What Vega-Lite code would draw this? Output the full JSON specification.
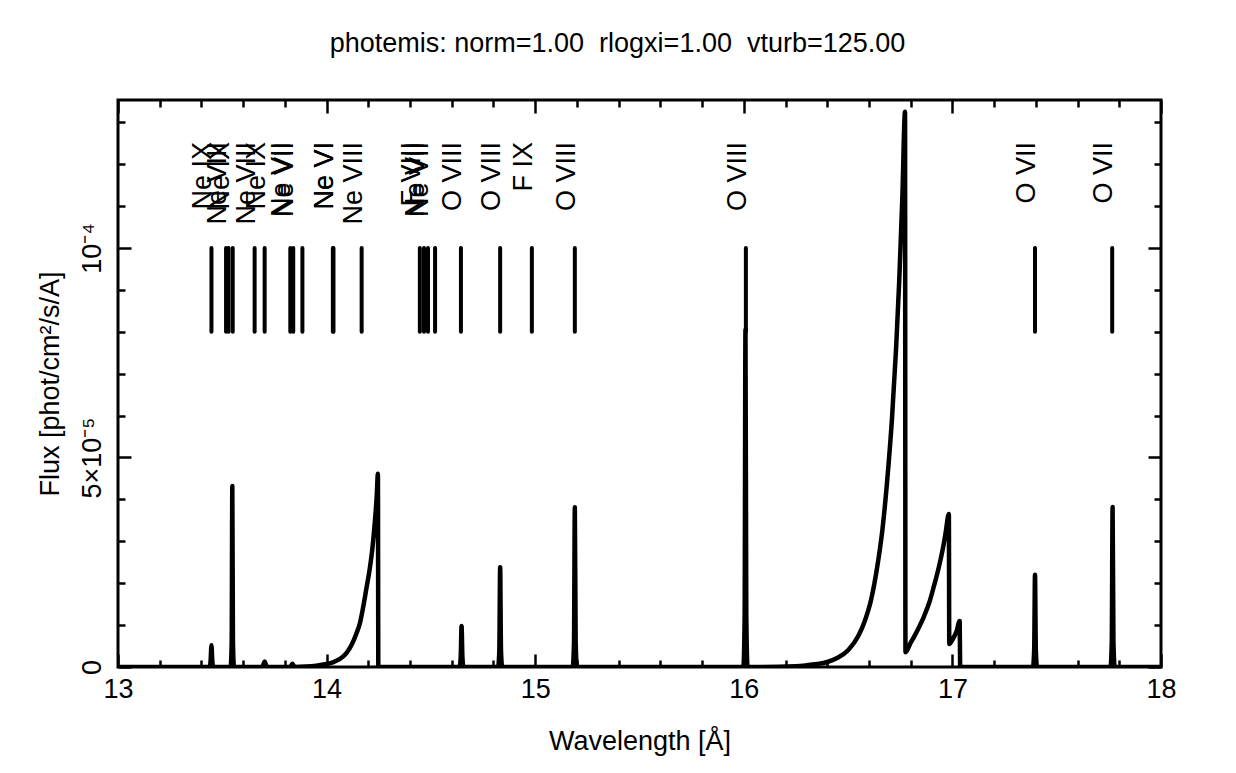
{
  "$schema": "https://vega.github.io/schema/vega-lite/v6.json",
  "width": 1043,
  "height": 567,
  "autosize": "none",
  "padding": {"left": 118, "top": 100, "right": 75, "bottom": 106},
  "background": "white",
  "title": {
    "text": "photemis: norm=1.00\u00a0 rlogxi=1.00\u00a0 vturb=125.00",
    "font": "Liberation Sans",
    "fontSize": 27,
    "fontWeight": "normal",
    "color": "black",
    "anchor": "middle",
    "baseline": "alphabetic",
    "offset": 20,
    "dx": -22
  },
  "datasets": {
    "spectrum": [
      {"wavelength": 13.0, "flux": 0}, {"wavelength": 13.43, "flux": 0},
      {"wavelength": 13.44, "flux": 0.0000002}, {"wavelength": 13.444, "flux": 0.0000015},
      {"wavelength": 13.448, "flux": 0.0000052}, {"wavelength": 13.452, "flux": 0.0000015},
      {"wavelength": 13.456, "flux": 0.0000002}, {"wavelength": 13.465, "flux": 0},
      {"wavelength": 13.54, "flux": 0}, {"wavelength": 13.545, "flux": 0.000006},
      {"wavelength": 13.548, "flux": 0.0000432}, {"wavelength": 13.551, "flux": 0.000006},
      {"wavelength": 13.556, "flux": 0},
      {"wavelength": 13.69, "flux": 0}, {"wavelength": 13.697, "flux": 0.0000006},
      {"wavelength": 13.703, "flux": 0.0000013}, {"wavelength": 13.709, "flux": 0.0000006},
      {"wavelength": 13.716, "flux": 0},
      {"wavelength": 13.825, "flux": 0}, {"wavelength": 13.831, "flux": 0.0000004},
      {"wavelength": 13.836, "flux": 0.0000008}, {"wavelength": 13.841, "flux": 0.0000004},
      {"wavelength": 13.847, "flux": 0},
      {"wavelength": 13.9, "flux": 0.0000001}, {"wavelength": 13.95, "flux": 0.0000003},
      {"wavelength": 14.0, "flux": 0.0000007}, {"wavelength": 14.03, "flux": 0.0000011},
      {"wavelength": 14.06, "flux": 0.0000018}, {"wavelength": 14.095, "flux": 0.0000033},
      {"wavelength": 14.12, "flux": 0.0000053}, {"wavelength": 14.143, "flux": 0.000008},
      {"wavelength": 14.16, "flux": 0.0000105}, {"wavelength": 14.175, "flux": 0.0000142},
      {"wavelength": 14.19, "flux": 0.0000185}, {"wavelength": 14.207, "flux": 0.0000235},
      {"wavelength": 14.22, "flux": 0.0000285}, {"wavelength": 14.231, "flux": 0.0000345},
      {"wavelength": 14.24, "flux": 0.0000405}, {"wavelength": 14.246, "flux": 0.0000461},
      {"wavelength": 14.248, "flux": 0},
      {"wavelength": 14.638, "flux": 0}, {"wavelength": 14.643, "flux": 0.0000025},
      {"wavelength": 14.647, "flux": 0.0000098}, {"wavelength": 14.651, "flux": 0.0000025},
      {"wavelength": 14.656, "flux": 0},
      {"wavelength": 14.822, "flux": 0}, {"wavelength": 14.828, "flux": 0.000004},
      {"wavelength": 14.832, "flux": 0.0000238}, {"wavelength": 14.836, "flux": 0.000004},
      {"wavelength": 14.842, "flux": 0},
      {"wavelength": 15.18, "flux": 0}, {"wavelength": 15.186, "flux": 0.000006},
      {"wavelength": 15.19, "flux": 0.0000381}, {"wavelength": 15.194, "flux": 0.000006},
      {"wavelength": 15.2, "flux": 0},
      {"wavelength": 15.998, "flux": 0}, {"wavelength": 16.004, "flux": 0.000012},
      {"wavelength": 16.008, "flux": 0.0000805}, {"wavelength": 16.012, "flux": 0.000012},
      {"wavelength": 16.018, "flux": 0},
      {"wavelength": 16.25, "flux": 0.0000002}, {"wavelength": 16.3, "flux": 0.0000004},
      {"wavelength": 16.35, "flux": 0.0000007}, {"wavelength": 16.4, "flux": 0.0000012},
      {"wavelength": 16.45, "flux": 0.0000022}, {"wavelength": 16.5, "flux": 0.000004},
      {"wavelength": 16.55, "flux": 0.0000075}, {"wavelength": 16.58, "flux": 0.000011},
      {"wavelength": 16.61, "flux": 0.000016}, {"wavelength": 16.64, "flux": 0.000024},
      {"wavelength": 16.665, "flux": 0.000033}, {"wavelength": 16.69, "flux": 0.000046},
      {"wavelength": 16.71, "flux": 0.000059}, {"wavelength": 16.73, "flux": 0.000076},
      {"wavelength": 16.745, "flux": 0.000092}, {"wavelength": 16.76, "flux": 0.000112},
      {"wavelength": 16.773, "flux": 0.0001325}, {"wavelength": 16.775, "flux": 0.0000035},
      {"wavelength": 16.8, "flux": 0.0000058}, {"wavelength": 16.816, "flux": 0.0000072},
      {"wavelength": 16.84, "flux": 0.0000095}, {"wavelength": 16.864, "flux": 0.0000121},
      {"wavelength": 16.89, "flux": 0.0000155}, {"wavelength": 16.912, "flux": 0.0000194},
      {"wavelength": 16.93, "flux": 0.0000228}, {"wavelength": 16.944, "flux": 0.0000258},
      {"wavelength": 16.958, "flux": 0.0000292}, {"wavelength": 16.968, "flux": 0.0000322},
      {"wavelength": 16.983, "flux": 0.0000365}, {"wavelength": 16.985, "flux": 0.0000055},
      {"wavelength": 17.0, "flux": 0.0000065}, {"wavelength": 17.02, "flux": 0.0000085},
      {"wavelength": 17.035, "flux": 0.000011}, {"wavelength": 17.037, "flux": 0.0000003},
      {"wavelength": 17.05, "flux": 0},
      {"wavelength": 17.386, "flux": 0}, {"wavelength": 17.392, "flux": 0.000004},
      {"wavelength": 17.396, "flux": 0.000022}, {"wavelength": 17.4, "flux": 0.000004},
      {"wavelength": 17.406, "flux": 0},
      {"wavelength": 17.758, "flux": 0}, {"wavelength": 17.764, "flux": 0.000006},
      {"wavelength": 17.768, "flux": 0.0000382}, {"wavelength": 17.772, "flux": 0.000006},
      {"wavelength": 17.778, "flux": 0}, {"wavelength": 18.0, "flux": 0}
    ],
    "lines": [
      {"wavelength": 13.448, "ion": "Ne IX"},
      {"wavelength": 13.518, "ion": "Ne VIII"},
      {"wavelength": 13.53, "ion": "Ne IX"},
      {"wavelength": 13.55, "ion": ""},
      {"wavelength": 13.655, "ion": "Ne VIII"},
      {"wavelength": 13.703, "ion": "Ne IX"},
      {"wavelength": 13.826, "ion": "Ne VII"},
      {"wavelength": 13.84, "ion": "Ne VII"},
      {"wavelength": 13.884, "ion": ""},
      {"wavelength": 14.03, "ion": "Ne VI"},
      {"wavelength": 14.033, "ion": "Ne VI"},
      {"wavelength": 14.168, "ion": "Ne VIII"},
      {"wavelength": 14.447, "ion": "F VIII"},
      {"wavelength": 14.467, "ion": "Ne VII"},
      {"wavelength": 14.486, "ion": "Ne VII"},
      {"wavelength": 14.52, "ion": ""},
      {"wavelength": 14.644, "ion": "O VIII"},
      {"wavelength": 14.832, "ion": "O VIII"},
      {"wavelength": 14.984, "ion": "F IX"},
      {"wavelength": 15.19, "ion": "O VIII"},
      {"wavelength": 16.01, "ion": "O VIII"},
      {"wavelength": 17.396, "ion": "O VII"},
      {"wavelength": 17.766, "ion": "O VII"}
    ]
  },
  "config": {
    "view": {"stroke": "black", "strokeWidth": 3},
    "font": "Liberation Sans",
    "axis": {
      "domain": false,
      "grid": false,
      "tickColor": "black",
      "tickWidth": 2.5,
      "labelColor": "black",
      "labelFont": "Liberation Sans",
      "labelFontSize": 27,
      "titleColor": "black",
      "titleFont": "Liberation Sans",
      "titleFontSize": 27,
      "titleFontWeight": "normal"
    }
  },
  "resolve": {"axis": {"x": "independent", "y": "independent"}},
  "layer": [
    {
      "data": {"name": "spectrum"},
      "mark": {"type": "line", "color": "black", "strokeWidth": 4.5, "strokeJoin": "round", "strokeCap": "round", "interpolate": "monotone", "clip": true},
      "encoding": {
        "x": {
          "field": "wavelength", "type": "quantitative",
          "scale": {"domain": [13, 18], "nice": false, "zero": false},
          "axis": {
            "orient": "bottom",
            "values": [13,13.2,13.4,13.6,13.8,14,14.2,14.4,14.6,14.8,15,15.2,15.4,15.6,15.8,16,16.2,16.4,16.6,16.8,17,17.2,17.4,17.6,17.8,18],
            "labelExpr": "abs(datum.value-round(datum.value))<0.001 ? format(datum.value,'d') : ''",
            "tickSize": {"condition": {"test": "abs(datum.value-round(datum.value))<0.001", "value": -13}, "value": -7},
            "labelPadding": 43,
            "labelBaseline": "alphabetic",
            "labelAlign": "center",
            "labelFlush": false,
            "labelOverlap": false,
            "labelBound": false,
            "title": "Wavelength [Å]",
            "titlePadding": 20
          }
        },
        "y": {
          "field": "flux", "type": "quantitative",
          "scale": {"domain": [0, 0.0001353], "nice": false, "zero": false},
          "axis": {
            "orient": "left",
            "values": [0,0.00001,0.00002,0.00003,0.00004,0.00005,0.00006,0.00007,0.00008,0.00009,0.0001,0.00011,0.00012,0.00013],
            "labelExpr": "datum.value == 0 ? '0' : (abs(datum.value-0.00005)<1e-9 ? '5×10⁻⁵' : (abs(datum.value-0.0001)<1e-9 ? '10⁻⁴' : ''))",
            "tickSize": {"condition": {"test": "abs(datum.value*20000-round(datum.value*20000))<0.001", "value": -13}, "value": -7},
            "labelAngle": 270,
            "labelAlign": "center",
            "labelBaseline": "alphabetic",
            "labelPadding": 31,
            "labelFlush": false,
            "labelOverlap": false,
            "labelBound": false,
            "title": "Flux [phot/cm²/s/A]",
            "titlePadding": 8
          }
        }
      }
    },
    {
      "data": {"name": "lines"},
      "mark": {"type": "rule", "color": "black", "strokeWidth": 4, "strokeCap": "round"},
      "encoding": {
        "x": {
          "field": "wavelength", "type": "quantitative",
          "axis": {
            "orient": "top",
            "values": [13,13.2,13.4,13.6,13.8,14,14.2,14.4,14.6,14.8,15,15.2,15.4,15.6,15.8,16,16.2,16.4,16.6,16.8,17,17.2,17.4,17.6,17.8,18],
            "tickSize": {"condition": {"test": "abs(datum.value-round(datum.value))<0.001", "value": -13}, "value": -7},
            "labels": false,
            "title": null
          }
        },
        "y": {
          "datum": 0.00008, "type": "quantitative",
          "axis": {
            "orient": "right",
            "values": [0,0.00001,0.00002,0.00003,0.00004,0.00005,0.00006,0.00007,0.00008,0.00009,0.0001,0.00011,0.00012,0.00013],
            "tickSize": {"condition": {"test": "abs(datum.value*20000-round(datum.value*20000))<0.001", "value": -13}, "value": -7},
            "labels": false,
            "title": null
          }
        },
        "y2": {"datum": 0.0001}
      }
    },
    {
      "data": {"name": "lines"},
      "mark": {"type": "text", "color": "black", "font": "Liberation Sans", "fontSize": 27, "angle": 270, "align": "right", "baseline": "alphabetic"},
      "encoding": {
        "x": {"field": "wavelength", "type": "quantitative", "axis": null},
        "y": {"datum": 0.0001253, "type": "quantitative", "axis": null},
        "text": {"field": "ion"}
      }
    }
  ]
}
